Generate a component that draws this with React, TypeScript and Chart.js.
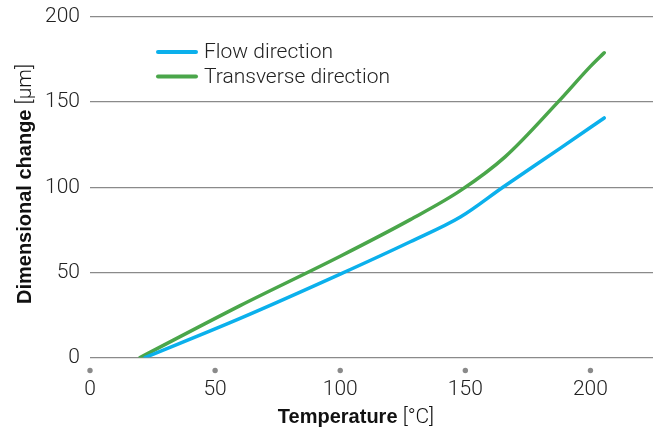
import React, { useEffect, useRef } from 'react';
import { Chart, registerables } from 'chart.js';

Chart.register(...registerables);

const xTickValues = [0, 50, 100, 150, 200];
const yTickValues = [0, 50, 100, 150, 200];

const flowLabel = 'Flow direction';
const flowTemps = [22, 60, 100, 128, 148, 165, 188, 205.5];
const flowValues = [0, 23, 49, 68, 82.5, 100, 123, 140.7];

const transLabel = 'Transverse direction';
const transTemps = [20, 60, 100, 128, 148, 166, 187, 200, 205.5];
const transValues = [0, 30.5, 59.5, 81, 98, 118, 150, 171, 179];

const xTitleBold = 'Temperature';
const xTitleUnit = ' [°C]';
const yTitleBold = 'Dimensional change';
const yTitleUnit = ' [µm]';

const FONT = 'Roboto';
const BOLD_FONT = '"Liberation Sans", Arial, sans-serif';
const TEXT = '#222222';
const GRID = '#8a8a8a';
const BLUE = '#0bb0ec';
const GREEN = '#4aa64a';

const toPoints = (xs: number[], ys: number[]) => xs.map((x, i) => ({ x, y: ys[i] }));

const decorPlugin = {
  id: 'decor',
  afterDraw(chart: any) {
    const ctx = chart.ctx as CanvasRenderingContext2D;
    const xs = chart.scales.x;
    const area = chart.chartArea;
    ctx.save();
    ctx.fillStyle = GRID;
    xTickValues.forEach((v) => {
      const px = xs.getPixelForValue(v);
      ctx.beginPath();
      ctx.arc(px, area.bottom + 13, 2.7, 0, Math.PI * 2);
      ctx.fill();
    });
    const drawMixed = (bold: string, reg: string) => {
      const bf = `bold 20px ${BOLD_FONT}`;
      const rf = `300 21px ${FONT}`;
      ctx.font = bf;
      const wb = ctx.measureText(bold).width;
      ctx.font = rf;
      const wr = ctx.measureText(reg).width;
      const start = -(wb + wr) / 2;
      ctx.textAlign = 'left';
      ctx.font = bf;
      ctx.fillText(bold, start, 0);
      ctx.font = rf;
      ctx.fillText(reg, start + wb, 0);
    };
    ctx.fillStyle = '#111111';
    ctx.textBaseline = 'alphabetic';
    ctx.save();
    ctx.translate(356, 423);
    drawMixed(xTitleBold, xTitleUnit);
    ctx.restore();
    ctx.save();
    ctx.translate(31, 184);
    ctx.rotate(-Math.PI / 2);
    drawMixed(yTitleBold, yTitleUnit);
    ctx.restore();
    const items = chart.data.datasets;
    items.forEach((ds: any, i: number) => {
      const y = 52 + i * 24.5;
      ctx.strokeStyle = ds.borderColor;
      ctx.lineWidth = 4;
      ctx.lineCap = 'round';
      ctx.beginPath();
      ctx.moveTo(158, y);
      ctx.lineTo(196, y);
      ctx.stroke();
      ctx.fillStyle = TEXT;
      ctx.font = `300 21px ${FONT}`;
      ctx.textAlign = 'left';
      ctx.textBaseline = 'middle';
      ctx.fillText(ds.label, 204, y + 1);
    });
    ctx.restore();
  },
};

export default function App() {
  const ref = useRef<HTMLCanvasElement | null>(null);
  useEffect(() => {
    if (!ref.current) return;
    const chart = new Chart(ref.current, {
      type: 'line',
      data: {
        datasets: [
          {
            label: flowLabel,
            data: toPoints(flowTemps, flowValues),
            borderColor: BLUE,
            backgroundColor: BLUE,
            borderWidth: 3.5,
            pointRadius: 0,
            cubicInterpolationMode: 'monotone',
            borderCapStyle: 'round',
            fill: false,
          },
          {
            label: transLabel,
            data: toPoints(transTemps, transValues),
            borderColor: GREEN,
            backgroundColor: GREEN,
            borderWidth: 3.5,
            pointRadius: 0,
            cubicInterpolationMode: 'monotone',
            borderCapStyle: 'round',
            fill: false,
          },
        ],
      },
      options: {
        responsive: false,
        animation: false,
        layout: { padding: { top: 17, right: 9, left: 0, bottom: 0 } },
        plugins: { legend: { display: false }, tooltip: { enabled: false } },
        scales: {
          x: {
            type: 'linear',
            min: 0,
            max: 225,
            afterBuildTicks: (s: any) => {
              s.ticks = xTickValues.map((v) => ({ value: v }));
            },
            afterFit: (s: any) => {
              s.height = 74.5;
              s.paddingLeft = 0;
              s.paddingRight = 0;
            },
            grid: { display: false, drawTicks: false },
            border: { display: false },
            ticks: {
              padding: 20,
              color: TEXT,
              font: { family: FONT, size: 21, weight: '300' },
              maxRotation: 0,
            },
          },
          y: {
            min: 0,
            max: 200,
            afterBuildTicks: (s: any) => {
              s.ticks = yTickValues.map((v) => ({ value: v }));
            },
            afterFit: (s: any) => {
              s.width = 90;
              s.paddingTop = 0;
              s.paddingBottom = 0;
            },
            grid: { color: GRID, lineWidth: 1.3, drawTicks: false },
            border: { display: false },
            ticks: {
              padding: 10,
              color: TEXT,
              font: { family: FONT, size: 21, weight: '300' },
            },
          },
        },
      } as any,
      plugins: [decorPlugin],
    });
    return () => chart.destroy();
  }, []);
  return (
    <div style={{ position: 'fixed', left: 0, top: 0, width: 662, height: 432, background: '#fff' }}>
      <canvas ref={ref} width={662} height={432} style={{ display: 'block' }} />
    </div>
  );
}
